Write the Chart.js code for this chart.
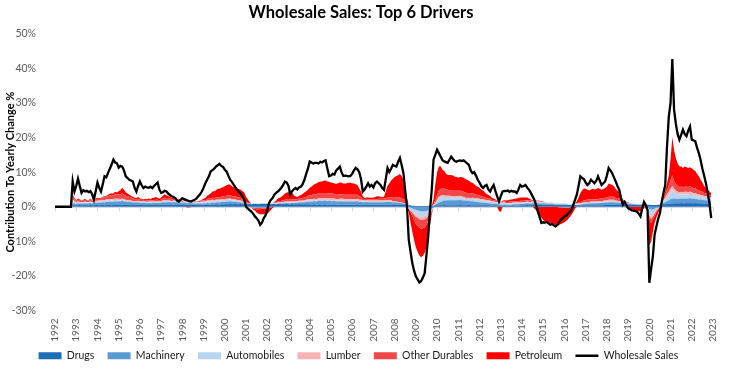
<!DOCTYPE html>
<html><head><meta charset="utf-8">
<script src="https://cdn.jsdelivr.net/npm/chart.js@4.4.0/dist/chart.umd.min.js"></script>
<style>html,body{margin:0;padding:0;background:#fff;}</style>
</head><body>
<canvas id="c" width="733" height="370"></canvas>
<script>
// ---- DATA (monthly, Jan 1992 .. Jan 2023), % contribution to yearly change ----
const yearTicks = ['1992','1993','1994','1995','1996','1997','1998','1999','2000','2001','2002','2003','2004','2005','2006','2007','2008','2009','2010','2011','2012','2013','2014','2015','2016','2017','2018','2019','2020','2021','2022','2023'];
const seriesNames = ['Drugs','Machinery','Automobiles','Lumber','Other Durables','Petroleum'];
const lineName = 'Wholesale Sales';

const wholesale = [
 0,0,0,0,0,0,0,0,0,0,7.3,4.4,
 6.0,8.1,6.0,4.0,4.8,4.4,4.6,4.2,4.5,3.6,2.0,4.5,
 7.0,5.5,4.4,6.5,8.8,8.5,9.8,11.0,12.2,13.6,12.8,12.6,
 11.3,11.8,11.6,10.5,8.8,8.3,7.8,7.6,7.3,5.5,4.4,6.0,
 7.3,6.2,5.4,5.8,5.6,5.5,5.8,5.4,6.0,6.5,7.0,5.0,
 4.0,4.2,4.6,4.4,3.8,3.4,3.0,2.8,2.5,1.8,1.5,2.0,
 2.5,2.2,2.0,1.8,1.6,1.5,1.8,2.0,2.4,3.0,3.6,4.4,
 5.5,6.8,7.8,8.8,10.2,10.6,11.0,11.6,12.0,12.4,11.8,11.5,
 10.7,10.2,9.0,7.8,7.2,6.4,5.6,4.9,4.3,3.8,3.0,2.0,
 0.0,-0.5,-1.0,-1.4,-2.0,-2.8,-3.3,-4.0,-5.2,-4.6,-3.3,-2.5,
 -1.0,1.0,2.0,2.5,3.5,4.0,4.4,4.9,5.5,6.3,7.3,7.0,
 6.0,3.5,4.5,5.0,5.4,5.0,5.6,5.8,6.5,7.8,9.5,11.0,
 13.1,12.8,12.5,12.7,12.7,12.5,13.0,12.8,13.2,13.4,11.0,8.8,
 9.0,9.5,9.3,10.5,11.0,11.6,10.0,8.9,9.0,8.9,8.8,8.9,
 9.5,10.5,11.2,10.8,10.0,8.0,4.4,5.0,5.8,6.8,5.8,6.3,
 5.6,6.8,7.3,6.8,6.3,5.4,4.9,8.0,11.2,10.0,11.0,12.1,
 11.8,11.6,13.0,14.1,12.0,9.7,4.5,0.0,-9.5,-13.0,-16.3,-18.5,
 -20.1,-21.0,-21.9,-21.5,-20.5,-19.2,-14.0,-8.6,-1.0,4.9,13.6,15.0,
 16.5,15.5,14.5,13.5,13.1,12.9,12.7,13.6,14.5,13.8,13.2,13.0,
 13.3,13.4,13.2,13.4,13.0,12.5,12.1,10.5,9.7,10.0,9.0,7.8,
 7.0,6.0,5.4,6.0,6.3,5.0,4.4,5.5,6.3,4.5,3.0,1.5,
 3.0,4.4,4.6,4.5,4.7,4.3,4.6,4.4,4.4,4.0,5.0,6.3,
 5.8,6.0,6.3,5.5,4.9,4.0,3.0,2.0,0.5,-1.4,-3.0,-4.7,
 -4.5,-4.6,-4.4,-4.8,-5.2,-5.0,-5.4,-5.7,-5.3,-4.5,-3.8,-3.3,
 -2.8,-2.6,-2.0,-1.5,-0.9,0.5,2.0,3.5,6.0,8.8,8.3,8.0,
 7.0,6.3,6.8,7.8,7.3,6.8,7.5,8.8,7.5,6.3,6.8,7.3,
 9.0,11.2,10.5,9.7,8.5,7.3,6.0,4.9,2.5,0.6,1.4,0.5,
 -0.4,-0.7,-1.0,-1.2,-1.2,-1.4,-2.0,-2.8,-0.5,1.4,0.5,-1.0,
 -22.0,-18.0,-14.4,-8.0,-5.7,-3.5,-1.8,1.4,4.0,6.3,17.4,26.0,
 30.0,42.7,28.0,24.0,21.0,19.4,20.8,22.3,21.0,20.4,22.0,23.2,
 19.4,19.2,18.9,17.0,15.5,13.5,11.0,9.0,6.8,4.0,1.0,-3.3,
 null
];

const drugs = [
 0,0,0,0,0,0,0,0,0,0,.4,.4,
 .4,.4,.5,.4,.4,.5,.4,.4,.5,.4,.4,.5,
 .5,.4,.5,.5,.4,.5,.5,.5,.4,.5,.5,.5,
 .5,.5,.6,.5,.5,.5,.6,.5,.5,.5,.5,.6,
 .5,.5,.5,.6,.5,.5,.5,.6,.5,.5,.5,.5,
 .5,.6,.5,.5,.6,.5,.5,.6,.5,.5,.6,.5,
 .5,.6,.6,.5,.6,.6,.6,.5,.6,.6,.6,.6,
 .6,.6,.7,.6,.6,.7,.6,.7,.7,.6,.7,.7,
 .7,.7,.7,.8,.7,.7,.8,.7,.7,.8,.7,.7,
 .7,.8,.8,.7,.8,.8,.8,.7,.8,.8,.8,.8,
 .8,.8,.7,.8,.8,.7,.8,.8,.7,.8,.7,.8,
 .7,.7,.8,.7,.7,.7,.8,.7,.7,.7,.7,.7,
 .7,.6,.7,.7,.6,.7,.7,.6,.7,.7,.6,.7,
 .6,.6,.7,.6,.6,.6,.7,.6,.6,.6,.6,.6,
 .6,.6,.6,.7,.6,.6,.6,.6,.7,.6,.6,.6,
 .6,.6,.6,.6,.6,.6,.5,.6,.6,.6,.6,.5,
 .5,.6,.5,.5,.5,.5,.5,.5,.4,.4,.3,.3,
 .2,.2,.2,.2,.2,.2,.2,.3,.3,.3,.3,.4,
 .4,.4,.4,.4,.5,.4,.4,.4,.4,.4,.4,.4,
 .4,.5,.4,.4,.4,.4,.5,.4,.4,.4,.4,.4,
 .4,.4,.4,.4,.4,.4,.4,.3,.4,.4,.4,.3,
 .3,.3,.4,.3,.3,.3,.3,.4,.3,.3,.3,.4,
 .4,.4,.4,.5,.4,.4,.5,.5,.5,.5,.5,.5,
 .6,.6,.6,.6,.6,.7,.6,.6,.6,.6,.6,.6,
 .6,.6,.5,.5,.5,.5,.5,.4,.4,.4,.4,.4,
 .4,.4,.4,.4,.4,.4,.4,.4,.4,.4,.4,.5,
 .5,.5,.5,.5,.5,.5,.5,.5,.5,.5,.5,.6,
 .6,.6,.6,.6,.6,.6,.6,.6,.6,.6,.6,.6,
 .6,.5,.5,.5,.5,.6,.6,.6,.7,.7,.8,.8,
 .9,.9,1.0,1.0,1.0,1.0,1.1,1.0,1.0,1.1,1.0,1.1,
 1.0,1.0,1.1,1.0,1.0,1.0,1.0,.9,.9,.9,.9,.8,
 null
];

const machinery = [
 0,0,0,0,0,0,0,0,0,0,.6,.5,
 .4,.5,.4,.5,.5,.4,.5,.5,.6,.5,.6,.6,
 .6,.7,.7,.8,.8,.9,.9,1.0,1.0,1.0,1.1,1.0,
 1.1,1.0,1.1,1.0,1.0,.9,.9,.8,.8,.7,.7,.7,
 .6,.6,.6,.5,.5,.6,.5,.5,.6,.6,.6,.6,
 .7,.7,.8,.7,.8,.8,.7,.7,.8,.7,.7,.6,
 .6,.6,.5,.5,.5,.4,.4,.4,.3,.3,.3,.3,
 .3,.3,.4,.4,.4,.5,.5,.5,.6,.6,.7,.7,
 .7,.8,.8,.8,.8,.7,.7,.6,.6,.5,.4,.3,
 .2,.1,0,-.1,-.2,-.2,-.3,-.3,-.3,-.3,-.3,-.3,
 -.3,-.2,-.2,-.1,0,0,.1,.1,.2,.2,.3,.3,
 .3,.3,.3,.4,.4,.4,.5,.5,.6,.6,.7,.7,
 .8,.8,.9,.9,.9,1.0,1.0,1.0,1.0,1.0,1.0,1.0,
 1.0,1.0,1.0,.9,.9,1.0,.9,.9,.9,.9,.9,.9,
 .9,.9,.9,.9,.8,.8,.7,.7,.7,.7,.7,.7,
 .7,.7,.7,.7,.7,.7,.8,.8,.8,.8,.8,.7,
 .7,.7,.6,.6,.5,.4,.3,.2,0,-.3,-.5,-.7,
 -.9,-1.0,-1.2,-1.3,-1.3,-1.3,-1.2,-1.0,-.8,-.5,-.2,.2,
 .5,.8,1.0,1.2,1.3,1.4,1.5,1.5,1.5,1.5,1.5,1.5,
 1.5,1.5,1.5,1.4,1.4,1.3,1.3,1.2,1.2,1.1,1.0,1.0,
 .9,.8,.8,.7,.7,.6,.6,.5,.5,.4,.4,.3,
 .3,.3,.3,.3,.3,.3,.3,.3,.4,.4,.4,.4,
 .4,.4,.5,.5,.5,.5,.5,.5,.5,.5,.5,.4,
 .4,.3,.3,.2,.2,.1,.1,0,0,-.1,-.1,-.2,
 -.2,-.2,-.2,-.1,-.1,0,0,.1,.1,.2,.3,.4,
 .4,.5,.5,.6,.6,.6,.6,.6,.7,.7,.7,.7,
 .7,.8,.8,.8,.8,.7,.7,.6,.6,.5,.4,.3,
 .3,.2,.2,.1,.1,0,0,0,-.1,-.1,-.1,-.1,
 -.6,-.9,-.8,-.6,-.4,-.2,0,.2,.4,.6,.8,1.0,
 1.3,1.5,1.4,1.3,1.3,1.3,1.3,1.4,1.4,1.3,1.4,1.4,
 1.3,1.3,1.2,1.2,1.1,1.1,1.0,1.0,1.0,.9,.9,.9,
 null
];

const automobiles = [
 0,0,0,0,0,0,0,0,0,0,.5,.4,
 .3,.3,.3,.2,.3,.3,.2,.3,.3,.2,.3,.3,
 .3,.4,.3,.4,.4,.4,.3,.4,.4,.3,.4,.4,
 .3,.3,.3,.2,.2,.2,.1,.2,.1,.1,.2,.2,
 .2,.2,.2,.3,.2,.2,.3,.2,.2,.2,.2,.2,
 .2,.2,.3,.3,.2,.2,.2,.3,.3,.2,.2,.2,
 .2,.3,.3,.3,.2,.2,.2,.3,.3,.3,.3,.4,
 .4,.4,.5,.5,.5,.5,.5,.5,.5,.5,.5,.5,
 .5,.5,.5,.5,.4,.4,.4,.3,.3,.2,.2,.1,
 0,0,.1,.1,.2,.2,.2,.2,.2,.3,.3,.3,
 .3,.3,.2,.2,.2,.2,.2,.2,.2,.2,.2,.2,
 .2,.2,.2,.2,.2,.2,.2,.2,.2,.2,.3,.3,
 .3,.3,.3,.3,.3,.3,.3,.3,.3,.3,.3,.3,
 .3,.3,.2,.2,.2,.2,.3,.3,.2,.2,.2,.2,
 .2,.2,.2,.2,.2,.2,.2,.2,.2,.2,.2,.2,
 .2,.2,.2,.2,.2,.2,.2,.2,.2,.2,.2,.1,
 .1,0,0,-.1,-.2,-.3,-.4,-.5,-.6,-.8,-1.0,-1.2,
 -1.4,-1.5,-1.6,-1.6,-1.5,-1.4,-1.2,-.8,-.5,-.2,.2,.5,
 .9,1.2,1.3,1.2,1.1,1.0,.9,.9,.8,.8,.8,.8,
 .8,.8,.7,.6,.5,.5,.5,.6,.7,.7,.7,.7,
 .7,.6,.6,.6,.5,.5,.5,.5,.4,.4,.4,.4,
 .4,.4,.4,.3,.3,.3,.3,.3,.3,.3,.3,.3,
 .3,.3,.3,.3,.3,.3,.3,.3,.3,.3,.3,.3,
 .3,.3,.3,.3,.3,.3,.3,.3,.3,.3,.3,.3,
 .3,.3,.2,.2,.2,.2,.2,.2,.2,.2,.2,.2,
 .2,.2,.2,.2,.2,.2,.2,.2,.2,.2,.3,.3,
 .3,.3,.3,.3,.3,.2,.2,.2,.2,.2,.2,.2,
 .2,.2,.2,.1,.1,.1,.1,.1,.1,.1,0,0,
 -1.5,-2.0,-1.5,-1.0,-.5,-.2,0,.2,.5,.8,1.2,1.5,
 2.0,2.5,1.8,1.5,1.3,1.2,1.2,1.1,1.2,1.2,1.1,1.2,
 1.1,1.0,1.0,.9,.9,.8,.8,.7,.7,.7,.6,.6,
 null
];

const lumber = [
 0,0,0,0,0,0,0,0,0,0,.6,.4,
 .2,.3,.2,.2,.2,.3,.2,.2,.2,.2,.2,.3,
 .3,.3,.3,.3,.3,.4,.4,.4,.4,.4,.4,.4,
 .4,.4,.4,.4,.3,.3,.3,.3,.2,.2,.2,.2,
 .2,.2,.2,.2,.2,.2,.2,.2,.2,.2,.2,.2,
 .2,.3,.3,.3,.3,.3,.2,.2,.2,.2,.2,.2,
 .1,.1,.1,.1,.1,.1,.1,.1,.1,.1,.2,.2,
 .2,.2,.2,.3,.3,.3,.3,.3,.3,.3,.3,.3,
 .3,.3,.3,.3,.3,.3,.3,.3,.3,.3,.3,.3,
 .2,.1,0,0,-.1,-.1,-.1,-.1,-.1,0,0,0,
 0,.1,.1,.1,.1,.2,.2,.2,.2,.2,.3,.3,
 .3,.3,.3,.3,.3,.3,.3,.3,.3,.3,.3,.4,
 .4,.4,.4,.4,.4,.5,.5,.5,.5,.5,.5,.5,
 .5,.5,.5,.5,.5,.5,.5,.5,.5,.5,.5,.5,
 .5,.5,.5,.5,.4,.4,.4,.3,.3,.3,.3,.3,
 .3,.3,.3,.3,.3,.3,.3,.3,.3,.3,.3,.3,
 .3,.3,.3,.3,.2,.2,.2,.2,.1,0,-.2,-.4,
 -.6,-.7,-.8,-.9,-.9,-.9,-.9,-.8,-.6,-.4,-.2,0,
 .2,.4,.5,.5,.5,.4,.4,.4,.4,.4,.4,.4,
 .4,.4,.4,.4,.3,.3,.3,.3,.3,.3,.3,.3,
 .3,.3,.3,.3,.3,.3,.3,.2,.2,.2,.2,.2,
 .2,.2,.2,.2,.2,.2,.2,.2,.2,.2,.2,.2,
 .2,.2,.2,.2,.2,.2,.2,.2,.2,.2,.2,.2,
 .1,.1,.1,.1,.1,.1,.1,.1,.1,.1,.1,.1,
 .1,.1,.1,.1,.1,.1,.1,.2,.2,.2,.2,.2,
 .2,.3,.3,.3,.3,.3,.3,.3,.3,.3,.3,.3,
 .3,.4,.4,.4,.4,.3,.3,.3,.2,.2,.1,.1,
 0,0,0,0,0,0,0,0,0,0,0,0,
 -.5,-.6,-.5,-.3,-.2,-.1,0,.1,.3,.5,.8,1.0,
 1.0,1.2,1.0,.9,.8,.7,.7,.7,.7,.7,.7,.7,
 .7,.6,.6,.6,.6,.5,.5,.5,.5,.4,.4,.4,
 null
];

const otherDurables = [
 0,0,0,0,0,0,0,0,0,0,.8,.5,
 .4,.5,.4,.3,.4,.5,.3,.4,.5,.4,.3,.5,
 .6,.5,.6,.7,.8,.8,.9,1.0,1.0,1.1,1.2,1.2,
 1.3,1.4,1.5,1.4,1.2,1.1,1.0,.9,.8,.7,.6,.6,
 .5,.5,.4,.4,.4,.4,.3,.4,.4,.5,.5,.4,
 .5,.6,.7,.7,.6,.6,.5,.5,.4,.4,.4,.3,
 .3,.3,.3,.2,.2,.2,.2,.2,.2,.3,.3,.3,
 .4,.4,.5,.5,.5,.6,.6,.6,.7,.7,.7,.8,
 .9,.9,1.0,1.0,.9,.9,.8,.8,.8,.7,.6,.5,
 .3,.2,0,-.1,-.2,-.2,-.3,-.3,-.3,-.3,-.2,-.2,
 -.2,-.1,0,0,.1,.2,.3,.3,.4,.4,.5,.5,
 .5,.5,.5,.5,.6,.6,.6,.7,.7,.8,.9,1.0,
 1.1,1.2,1.3,1.3,1.4,1.4,1.5,1.5,1.5,1.5,1.5,1.4,
 1.4,1.4,1.3,1.3,1.3,1.3,1.2,1.2,1.3,1.3,1.3,1.3,
 1.3,1.3,1.3,1.2,1.0,.8,.5,.4,.4,.4,.4,.4,
 .4,.4,.4,.5,.5,.5,.5,.6,.7,.8,.9,1.0,
 1.0,1.1,1.2,1.3,1.2,1.1,.9,.5,0,-.5,-1.0,-1.5,
 -2.0,-2.3,-2.5,-2.6,-2.5,-2.3,-2.0,-1.6,-1.0,-.5,.2,.8,
 1.4,1.8,2.0,2.0,1.9,1.8,1.7,1.6,1.5,1.5,1.5,1.5,
 1.5,1.5,1.5,1.5,1.5,1.4,1.4,1.3,1.3,1.2,1.1,1.0,
 1.0,.9,.8,.7,.6,.6,.5,.5,.4,.4,.3,.3,
 .3,.3,.3,.3,.3,.4,.4,.4,.4,.4,.4,.4,
 .4,.4,.4,.4,.4,.4,.4,.3,.3,.3,.2,.2,
 .1,.1,0,0,-.1,-.1,-.1,-.1,-.1,-.1,-.1,-.1,
 -.1,-.1,-.1,-.1,0,0,.1,.2,.3,.4,.5,.6,
 .7,.7,.7,.7,.7,.7,.7,.7,.8,.8,.8,.8,
 .8,.9,.9,.9,.9,.8,.8,.7,.6,.5,.4,.3,
 .2,.1,0,0,-.1,-.1,-.1,-.1,-.1,-.1,-.1,-.2,
 -1.0,-1.2,-1.0,-.8,-.5,-.3,0,.3,.6,.9,1.2,1.8,
 2.5,3.0,2.2,1.8,1.6,1.5,1.5,1.5,1.5,1.5,1.5,1.5,
 1.5,1.4,1.4,1.3,1.2,1.1,1.0,.9,.8,.7,.6,.5,
 null
];

const petroleum = [
 0,0,0,0,0,0,0,0,0,0,.6,.3,
 .2,.4,.3,.1,.2,.3,.2,.1,.3,.2,0,.2,
 .3,.2,.1,.2,.3,.2,.4,.5,.6,.5,.7,.6,
 .9,1.2,1.6,1.4,1.0,.8,.6,.5,.5,.4,.3,.5,
 .4,.3,.2,.3,.4,.5,.4,.6,.7,.8,.6,.4,
 .6,.8,1.0,.8,.6,.5,.4,.3,.3,.2,.2,.1,
 0,-.1,-.1,-.2,-.2,-.1,-.1,-.1,0,0,.1,.2,
 .4,.6,.9,1.2,1.5,1.8,2.0,2.2,2.4,2.5,2.6,2.6,
 2.8,3.0,3.1,3.0,2.8,2.6,2.6,2.5,2.4,2.4,2.3,2.2,
 1.5,1.0,.5,0,-.3,-.6,-1.0,-1.3,-1.5,-1.6,-1.7,-1.6,
 -1.5,-1.2,-.8,-.3,.2,.5,.8,1.0,1.2,1.5,1.8,2.0,
 2.2,2.3,2.0,1.2,.8,.6,.8,1.0,1.2,1.5,1.6,1.8,
 2.2,2.5,2.7,3.0,3.2,3.2,3.3,3.4,3.5,3.6,3.4,3.3,
 3.2,3.1,3.0,3.1,3.3,3.4,3.3,3.2,3.2,3.3,3.4,3.4,
 3.3,3.2,3.0,2.8,2.3,1.6,.6,.3,.4,.5,.4,.5,
 .4,.6,.8,.7,.6,.5,.6,2.0,3.5,4.0,4.8,5.5,
 6.0,6.2,6.5,6.8,6.5,5.5,3.5,1.0,-1.0,-3.0,-4.5,-5.8,
 -6.8,-7.5,-8.0,-8.2,-8.0,-7.5,-6.5,-4.5,-2.5,-.5,1.5,4.5,
 6.5,7.0,6.5,5.5,5.0,4.6,4.3,4.4,4.6,4.4,4.1,4.0,
 3.8,3.9,4.0,4.1,3.9,3.8,3.6,3.3,3.0,2.8,2.6,2.4,
 2.2,2.0,1.8,1.5,1.2,1.0,.8,.6,.5,.3,.1,-1.2,
 -1.5,.2,.3,.4,.5,.5,.6,.6,.7,.8,.9,1.0,
 1.0,1.0,.9,.8,.6,.3,0,-.5,-1.0,-1.8,-2.5,-3.2,
 -3.8,-4.2,-4.4,-4.5,-4.7,-4.8,-5.0,-5.2,-5.3,-5.1,-4.8,-4.5,
 -4.2,-3.8,-3.3,-2.8,-2.2,-1.5,-.5,.5,1.5,2.5,3.2,3.5,
 3.3,2.8,2.6,2.8,3.0,2.8,2.9,3.2,2.8,2.5,2.6,2.8,
 3.2,3.8,3.6,3.4,3.0,2.6,2.2,1.6,.8,.2,.2,-.2,
 -.5,-.8,-1.0,-1.0,-1.0,-1.0,-1.2,-1.2,-.8,-.2,-.3,-.6,
 -7.5,-5.5,-3.5,-2.0,-1.5,-1.0,-.5,0,.5,1.0,2.0,3.0,
 6.0,11.0,9.0,7.5,6.5,6.0,5.8,5.5,5.8,5.6,5.5,5.5,
 5.5,5.3,5.0,4.5,4.0,3.3,2.7,2.0,1.5,1.2,1.0,.8,
 null
];

// ---- STYLE ----
const seriesColors = ['#1F6EB8','#5B9BD5','#B7D5EE','#F8B4B4','#F04848','#FF0000'];
const FONT = 'Lato';

// month labels built from the year tick list
const monthLabels = [];
yearTicks.forEach(y => { for (let m = 1; m <= 12; m++) if (monthLabels.length < wholesale.length) monthLabels.push(y + '-' + String(m).padStart(2,'0')); });

const comps = [drugs, machinery, automobiles, lumber, otherDurables, petroleum];
const datasets = [];
comps.forEach((arr, i) => datasets.push({
  label: seriesNames[i], data: arr.map(v => v == null ? null : Math.max(v, 0)),
  stack: 'pos', fill: i === 0 ? 'origin' : '-1', backgroundColor: seriesColors[i], borderColor: seriesColors[i],
  borderWidth: 0, pointRadius: 0, pointHoverRadius: 0, pointStyle: 'rect', order: 1, tension: 0
}));
comps.forEach((arr, i) => datasets.push({
  label: seriesNames[i] + ' (neg)', data: arr.map(v => v == null ? null : Math.min(v, 0)),
  stack: 'neg', fill: i === 0 ? 'origin' : '-1', backgroundColor: seriesColors[i], borderColor: seriesColors[i],
  borderWidth: 0, pointRadius: 0, pointHoverRadius: 0, pointStyle: 'rect', order: 1, tension: 0
}));
datasets.push({
  label: lineName, data: wholesale, stack: 'line', fill: false, borderColor: '#000000', backgroundColor: '#000000',
  borderWidth: 2.3, pointRadius: 0, pointHoverRadius: 0, pointStyle: 'line', order: 0, tension: 0
});

const zeroAxis = {
  id: 'zeroAxis',
  beforeDatasetsDraw(chart) {
    const {ctx, chartArea, scales: {x, y}} = chart;
    const y0 = Math.round(y.getPixelForValue(0)) + 0.5;
    ctx.save();
    ctx.strokeStyle = '#d9d9d9'; ctx.lineWidth = 1;
    ctx.beginPath();
    ctx.moveTo(chartArea.left, y0); ctx.lineTo(chartArea.right, y0);
    for (let i = 0; i < monthLabels.length; i += 12) {
      const px = Math.round(x.getPixelForValue(i)) + 0.5;
      ctx.moveTo(px, y0); ctx.lineTo(px, y0 + 4);
    }
    ctx.stroke();
    ctx.restore();
  }
};

new Chart(document.getElementById('c'), {
  type: 'line',
  data: { labels: monthLabels, datasets },
  plugins: [zeroAxis],
  options: {
    responsive: false, animation: false,
    layout: { padding: { left: 0, right: 11, top: 0, bottom: -1 } },
    interaction: { mode: 'index', intersect: false },
    plugins: {
      tooltip: { enabled: false },
      title: { display: true, text: 'Wholesale Sales: Top 6 Drivers', color: '#000',
        font: { family: FONT, size: 16.5, weight: 'bold' }, padding: { top: 3, bottom: 11 } },
      legend: {
        position: 'bottom',
        labels: {
          usePointStyle: true, pointStyleWidth: 23, boxHeight: 7, padding: 8,
          color: '#1a1a1a', font: { family: FONT, size: 10.5 },
          generateLabels: chart => Chart.defaults.plugins.legend.labels.generateLabels(chart)
            .map(it => Object.assign(it, { text: it.text + '\u2002' })),
          filter: item => item.datasetIndex < 6 || item.datasetIndex === 12,
          sort: (a, b) => a.datasetIndex - b.datasetIndex
        }
      }
    },
    scales: {
      x: {
        type: 'category',
        grid: { display: false, drawTicks: false }, border: { display: false },
        ticks: {
          autoSkip: false, minRotation: 90, maxRotation: 90, padding: 8, color: '#595959',
          font: { family: FONT, size: 10 },
          callback: function (v, i) { return i % 12 === 0 ? yearTicks[i / 12] : ''; }
        },
        afterFit: s => { s.height = 32; }
      },
      y: {
        stacked: true, min: -30, max: 50,
        grid: { display: false }, border: { display: false },
        ticks: { stepSize: 10, padding: 11, color: '#595959', font: { family: FONT, size: 10.5 },
          callback: v => v + '%' },
        title: { display: true, text: 'Contribution To Yearly Change %', color: '#000',
          font: { family: FONT, size: 11, weight: 'bold' }, padding: { top: 4, bottom: 0 } },
        afterFit: s => { s.width = 55; }
      }
    }
  }
});
</script>
</body></html>
